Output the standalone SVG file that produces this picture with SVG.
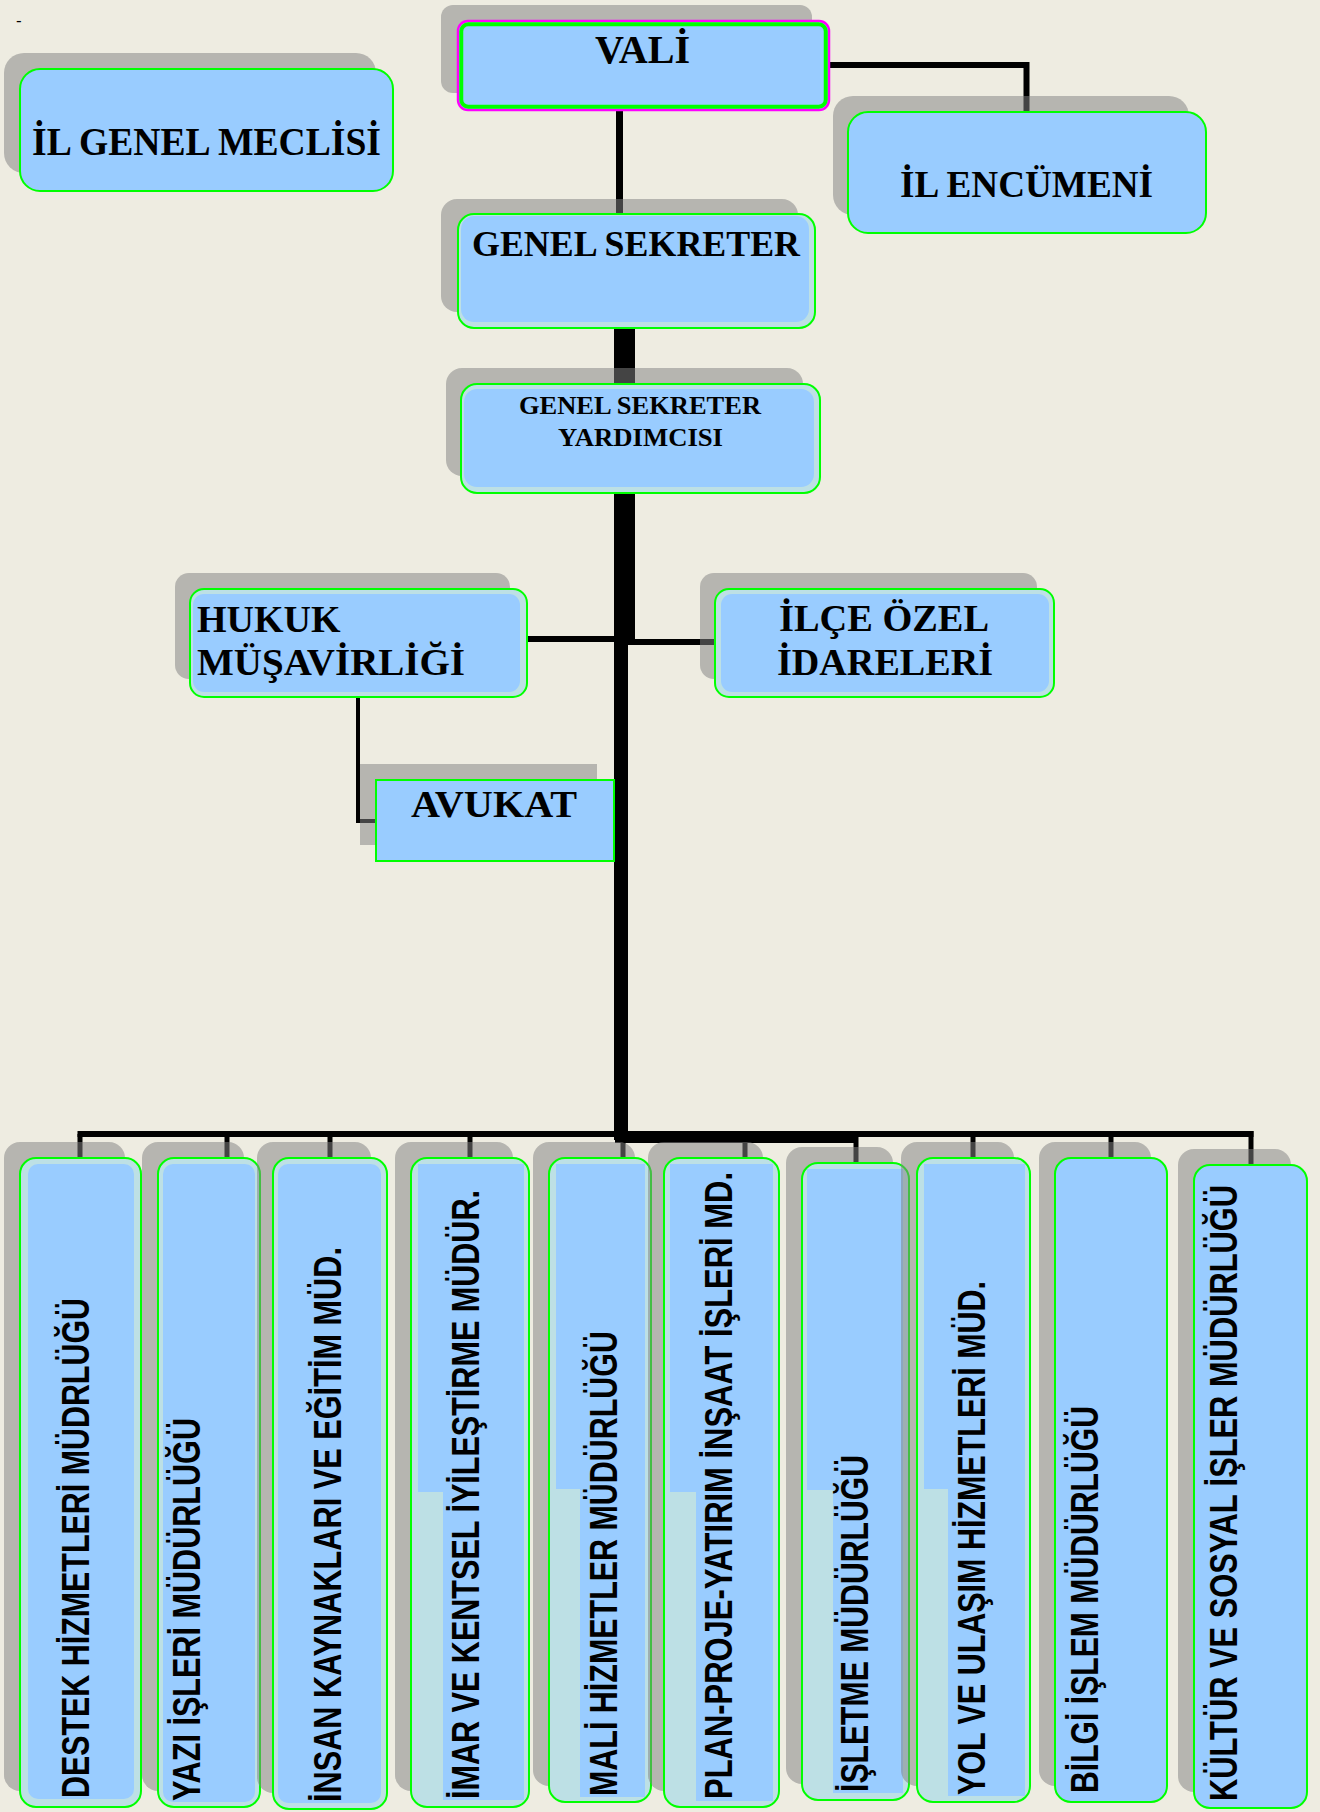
<svg xmlns="http://www.w3.org/2000/svg" width="1320" height="1812" viewBox="0 0 1320 1812">
<style>
.bg{fill:#eeece1}
.sh{fill:#838383;fill-opacity:0.52}
.bx{fill:#99ccff;stroke:#00ff00;stroke-width:2}
.bl{fill:#bde0e5;stroke:#00ff00;stroke-width:2}
.in{fill:#99ccff}
.cn{fill:none;stroke:#000;stroke-linejoin:miter;stroke-linecap:butt}
.t{font-family:"Liberation Serif","Times New Roman",serif;font-weight:bold;font-size:38px;fill:#000}
.v{font-family:"Liberation Sans",Arial,sans-serif;font-weight:bold;font-size:38px;fill:#000}
</style>
<rect class="bg" x="0" y="0" width="1320" height="1812"/>
<text x="16" y="26" style="font-family:'Liberation Sans',Arial,sans-serif;font-size:17px">-</text>

<g id="connectors">
<path class="cn" d="M619.5 109 V214" stroke-width="7"/>
<path class="cn" d="M829 65 H1026.5 V112" stroke-width="6"/>
<path class="cn" d="M621 328 V1140" stroke-width="14"/>
<path class="cn" d="M631.5 328 V645" stroke-width="7"/>
<path class="cn" d="M527 639 H621" stroke-width="6"/>
<path class="cn" d="M628 642 H715" stroke-width="6"/>
<path class="cn" d="M358 697 V821 H376" stroke-width="4"/>
<path class="cn" d="M77.5 1134 H1253.5" stroke-width="6"/>
<path class="cn" d="M615 1137 H858" stroke-width="12"/>
<path class="cn" d="M80 1134 V1158 M227 1134 V1158 M330 1134 V1158 M470 1134 V1158 M623 1134 V1158 M745 1134 V1158 M856 1134 V1163 M973 1134 V1158 M1111 1134 V1158 M1251 1131 V1165" stroke-width="5"/>
</g>

<g id="il-genel-meclisi">
<rect class="sh" x="4" y="53" width="372" height="120" rx="20"/>
<rect class="bx" x="20" y="69" width="373" height="122" rx="20"/>
<text class="t" x="32" y="155" style="font-size:40px" textLength="349" lengthAdjust="spacingAndGlyphs">İL GENEL MECLİSİ</text>
</g>

<g id="vali">
<rect class="sh" x="441" y="5" width="371" height="88" rx="12"/>
<rect x="458" y="21" width="371" height="89" rx="10" fill="#99ccff" stroke="#ff00ff" stroke-width="2.5"/>
<rect x="461.25" y="24.25" width="364.5" height="82.5" rx="7" fill="none" stroke="#00ff00" stroke-width="4"/>
<text class="t" x="595" y="63" style="font-size:39px" textLength="95" lengthAdjust="spacingAndGlyphs">VALİ</text>
</g>

<g id="il-encumeni">
<rect class="sh" x="833" y="96" width="356" height="119" rx="20"/>
<rect class="bx" x="848" y="112" width="358" height="121" rx="20"/>
<text class="t" x="900" y="197" textLength="253" lengthAdjust="spacingAndGlyphs">İL ENCÜMENİ</text>
</g>

<g id="genel-sekreter">
<rect class="sh" x="441" y="199" width="357" height="113" rx="16"/>
<rect class="bl" x="458" y="214" width="357" height="114" rx="16"/>
<rect class="in" x="461" y="216" width="348" height="106" rx="13"/>
<text class="t" x="472" y="256" style="font-size:36px" textLength="328" lengthAdjust="spacingAndGlyphs">GENEL SEKRETER</text>
</g>

<g id="genel-sekreter-yardimcisi">
<rect class="sh" x="446" y="368" width="357" height="108" rx="16"/>
<rect class="bl" x="461" y="384" width="359" height="109" rx="16"/>
<rect class="in" x="464" y="389" width="350" height="98" rx="13"/>
<text class="t" x="519" y="414" style="font-size:26px" textLength="242" lengthAdjust="spacingAndGlyphs">GENEL SEKRETER</text>
<text class="t" x="558" y="446" style="font-size:26px" textLength="165" lengthAdjust="spacingAndGlyphs">YARDIMCISI</text>
</g>

<g id="hukuk-musavirligi">
<rect class="sh" x="175" y="573" width="335" height="106" rx="14"/>
<rect class="bl" x="190" y="589" width="337" height="108" rx="14"/>
<rect class="in" x="193" y="594" width="327" height="98" rx="11"/>
<text class="t" x="197" y="632">HUKUK</text>
<text class="t" x="197" y="675" textLength="268" lengthAdjust="spacingAndGlyphs">MÜŞAVİRLİĞİ</text>
</g>

<g id="ilce-ozel-idareleri">
<rect class="sh" x="700" y="573" width="337" height="106" rx="14"/>
<rect class="bl" x="715" y="589" width="339" height="108" rx="14"/>
<rect class="in" x="721" y="594" width="328" height="98" rx="11"/>
<text class="t" x="779" y="631" textLength="210" lengthAdjust="spacingAndGlyphs">İLÇE ÖZEL</text>
<text class="t" x="777" y="675" textLength="216" lengthAdjust="spacingAndGlyphs">İDARELERİ</text>
</g>

<g id="avukat">
<rect class="sh" x="360" y="764" width="237" height="81"/>
<rect class="bx" x="376" y="780" width="238" height="81"/>
<text class="t" x="411" y="817" textLength="166" lengthAdjust="spacingAndGlyphs">AVUKAT</text>
</g>

<g id="destek">
<rect class="sh" x="4" y="1142" width="121" height="649" rx="16"/>
<rect class="bl" x="20" y="1158" width="121" height="649" rx="16"/>
<rect class="in" x="28" y="1164" width="106" height="635" rx="10"/>
<text class="v" transform="translate(89 1798) rotate(-90)" textLength="500" lengthAdjust="spacingAndGlyphs">DESTEK HİZMETLERİ MÜDRLÜĞÜ</text>
</g>

<g id="yazi-isleri">
<rect class="sh" x="142" y="1142" width="102" height="649" rx="16"/>
<rect class="bl" x="158" y="1158" width="102" height="649" rx="16"/>
<rect class="in" x="163" y="1164" width="92" height="638" rx="10"/>
<text class="v" transform="translate(200 1801) rotate(-90)" textLength="383" lengthAdjust="spacingAndGlyphs">YAZI İŞLERİ MÜDÜRLÜĞÜ</text>
</g>

<g id="insan-kaynaklari">
<rect class="sh" x="257" y="1142" width="114" height="651" rx="16"/>
<rect class="bl" x="273" y="1158" width="114" height="651" rx="16"/>
<rect class="in" x="278" y="1164" width="103" height="639" rx="10"/>
<text class="v" transform="translate(341 1802) rotate(-90)" textLength="555" lengthAdjust="spacingAndGlyphs">İNSAN KAYNAKLARI VE EĞİTİM MÜD.</text>
</g>

<g id="imar">
<rect class="sh" x="395" y="1142" width="118" height="649" rx="16"/>
<rect class="bl" x="411" y="1158" width="118" height="649" rx="16"/>
<rect class="in" x="418" y="1164" width="106" height="328"/>
<rect class="in" x="443" y="1170" width="81" height="630"/>
<text class="v" transform="translate(479 1799) rotate(-90)" textLength="609" lengthAdjust="spacingAndGlyphs">İMAR VE KENTSEL İYİLEŞTİRME MÜDÜR.</text>
</g>

<g id="mali-hizmetler">
<rect class="sh" x="533" y="1142" width="102" height="644" rx="16"/>
<rect class="bl" x="549" y="1158" width="102" height="644" rx="16"/>
<rect class="in" x="556" y="1164" width="89" height="325"/>
<rect class="in" x="580" y="1170" width="65" height="627"/>
<text class="v" transform="translate(617 1796) rotate(-90)" textLength="465" lengthAdjust="spacingAndGlyphs">MALİ HİZMETLER MÜDÜRLÜĞÜ</text>
</g>

<g id="plan-proje">
<rect class="sh" x="648" y="1142" width="115" height="649" rx="16"/>
<rect class="bl" x="664" y="1158" width="115" height="649" rx="16"/>
<rect class="in" x="670" y="1164" width="103" height="328"/>
<rect class="in" x="696" y="1170" width="77" height="631"/>
<text class="v" transform="translate(732 1799) rotate(-90)" textLength="627" lengthAdjust="spacingAndGlyphs">PLAN-PROJE-YATIRIM İNŞAAT İŞLERİ MD.</text>
</g>

<g id="isletme">
<rect class="sh" x="786" y="1147" width="107" height="637" rx="16"/>
<rect class="bl" x="802" y="1163" width="107" height="637" rx="16"/>
<rect class="in" x="807" y="1169" width="96" height="321"/>
<rect class="in" x="833" y="1175" width="70" height="618"/>
<text class="v" transform="translate(868 1792) rotate(-90)" textLength="337" lengthAdjust="spacingAndGlyphs">İŞLETME MÜDÜRLÜĞÜ</text>
</g>

<g id="yol-ulasim">
<rect class="sh" x="901" y="1142" width="113" height="644" rx="16"/>
<rect class="bl" x="917" y="1158" width="113" height="644" rx="16"/>
<rect class="in" x="924" y="1164" width="101" height="325"/>
<rect class="in" x="948" y="1170" width="77" height="626"/>
<text class="v" transform="translate(985 1795) rotate(-90)" textLength="514" lengthAdjust="spacingAndGlyphs">YOL VE ULAŞIM HİZMETLERİ MÜD.</text>
</g>

<g id="bilgi-islem">
<rect class="sh" x="1039" y="1142" width="112" height="644" rx="16"/>
<rect class="bx" x="1055" y="1158" width="112" height="644" rx="16"/>
<text class="v" transform="translate(1098 1793) rotate(-90)" textLength="387" lengthAdjust="spacingAndGlyphs">BİLGİ İŞLEM MÜDÜRLÜĞÜ</text>
</g>

<g id="kultur-sosyal">
<rect class="sh" x="1178" y="1149" width="113" height="643" rx="16"/>
<rect class="bx" x="1194" y="1165" width="113" height="643" rx="16"/>
<text class="v" transform="translate(1237 1801) rotate(-90)" textLength="616" lengthAdjust="spacingAndGlyphs">KÜLTÜR VE SOSYAL İŞLER MÜDÜRLÜĞÜ</text>
</g>
</svg>
